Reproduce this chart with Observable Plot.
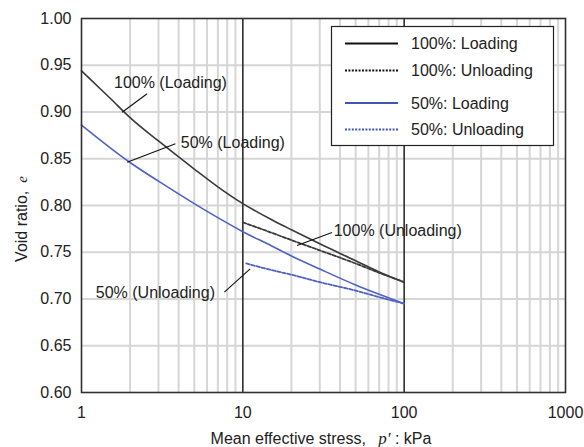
<!DOCTYPE html>
<html>
<head>
<meta charset="utf-8">
<script src="https://cdn.jsdelivr.net/npm/d3@7"></script>
<script src="https://cdn.jsdelivr.net/npm/@observablehq/plot@0.6"></script>
<style>
  html, body { margin: 0; padding: 0; background: #fff; }
  #chart { position: relative; width: 584px; height: 447px; }
</style>
</head>
<body>
<div id="chart"></div>
<script>
// ---- Data ----
const p100Load = [1, 1.5, 2, 3, 5, 7, 10, 15, 20, 30, 50, 70, 100];
const e100Load = [0.944, 0.915, 0.894, 0.869, 0.839, 0.820, 0.802, 0.785, 0.774, 0.759, 0.741, 0.729, 0.718];

const p50Load = [1, 1.5, 2, 3, 5, 7, 10, 15, 20, 30, 50, 70, 100];
const e50Load = [0.886, 0.862, 0.846, 0.826, 0.802, 0.787, 0.772, 0.757, 0.746, 0.732, 0.715, 0.705, 0.695];

const p100Unload = [10, 15, 20, 30, 50, 70, 100];
const e100Unload = [0.782, 0.771, 0.763, 0.752, 0.738, 0.728, 0.718];

const p50Unload = [10.5, 15, 20, 30, 50, 70, 100];
const e50Unload = [0.738, 0.731, 0.726, 0.718, 0.709, 0.702, 0.695];

const xTicks = [1, 10, 100, 1000];
const yTicks = [0.60, 0.65, 0.70, 0.75, 0.80, 0.85, 0.90, 0.95, 1.00];
const decades = [1, 10, 100];
const minorMult = [2, 3, 4, 5, 6, 7, 8, 9];
const majorX = [10, 100];

const seriesNames = ["100%: Loading", "100%: Unloading", "50%: Loading", "50%: Unloading"];

// annotation labels: text, text position (p, e), leader start (p, e), leader end on curve (p, e)
const annLabels = ["100% (Loading)", "50% (Loading)", "100% (Unloading)", "50% (Unloading)"];
const annTextP = [3.56, 8.67, 91.2, 2.87];
const annTextE = [0.9316, 0.8666, 0.7733, 0.7062];
const annFromP = [2.55, 3.82, 35.7, 7.68];
const annFromE = [0.9195, 0.866, 0.7711, 0.7073];
const annToP = [1.786, 1.92, 21.7, 11.1];
const annToE = [0.8998, 0.8463, 0.7572, 0.7323];

// ---- Build tables ----
const toRows = (ps, es) => ps.map((p, i) => ({p, e: es[i]}));
const d100L = toRows(p100Load, e100Load);
const d50L = toRows(p50Load, e50Load);
const d100U = toRows(p100Unload, e100Unload);
const d50U = toRows(p50Unload, e50Unload);
const minorX = decades.flatMap(d => minorMult.map(m => d * m));
const ann = annLabels.map((t, i) => ({
  t, tp: annTextP[i], te: annTextE[i],
  fp: annFromP[i], fe: annFromE[i], op: annToP[i], oe: annToE[i]
}));

const black = "#3a3a3a";
const blue = "#4f62c4";
const gridC = "#d6d6d6";
const textC = "#222";
const FONT = "'Liberation Sans', Arial, sans-serif";

const plot = Plot.plot({
  width: 584,
  height: 447,
  marginLeft: 81,
  marginRight: 19,
  marginTop: 18,
  marginBottom: 55,
  style: {fontFamily: FONT, fontSize: "16px", color: textC, background: "white", overflow: "visible"},
  x: {type: "log", domain: [1, 1000]},
  y: {domain: [0.6, 1.0]},
  marks: [
    Plot.ruleY(yTicks.slice(1, -1), {stroke: gridC, strokeWidth: 2}),
    Plot.ruleX(minorX, {stroke: gridC, strokeWidth: 2}),
    Plot.ruleX(majorX, {stroke: "#2f2f2f", strokeWidth: 1.6}),
    Plot.axisX({ticks: xTicks, tickFormat: d => String(d), tickSize: 0, tickPadding: 14, label: null, fontSize: 16}),
    Plot.axisY({ticks: yTicks, tickFormat: d => d.toFixed(2), tickSize: 0, tickPadding: 10, label: null, fontSize: 16}),
    Plot.line(d100L, {x: "p", y: "e", stroke: black, strokeWidth: 1.6, curve: "monotone-x"}),
    Plot.line(d50L, {x: "p", y: "e", stroke: blue, strokeWidth: 1.6, curve: "monotone-x"}),
    Plot.line(d100U, {x: "p", y: "e", stroke: black, strokeWidth: 1.8, strokeDasharray: "3.5,1.8", curve: "monotone-x"}),
    Plot.line(d50U, {x: "p", y: "e", stroke: blue, strokeWidth: 1.8, strokeDasharray: "3.5,1.8", curve: "monotone-x"}),
    Plot.link(ann, {x1: "fp", y1: "fe", x2: "op", y2: "oe", stroke: "#111", strokeWidth: 1.1}),
    Plot.text(ann, {x: "tp", y: "te", text: "t", fill: textC, fontSize: 16, className: "annot"}),
    Plot.frame({stroke: "#2f2f2f", strokeWidth: 1.6})
  ]
});

document.getElementById("chart").appendChild(plot);

const svg = d3.select(plot);

// white boxes behind annotation labels
svg.selectAll("g.annot text").each(function() {
  const bb = this.getBBox();
  d3.select(this.parentNode).insert("rect", () => this)
    .attr("x", bb.x - 3).attr("y", bb.y - 1)
    .attr("width", bb.width + 6).attr("height", bb.height + 2)
    .attr("fill", "white");
});

// axis titles
const xt = svg.append("text")
  .attr("x", 321).attr("y", 444)
  .attr("text-anchor", "middle")
  .attr("fill", textC)
  .style("font-family", FONT).style("font-size", "16px");
xt.append("tspan").text("Mean effective stress,\u2002 ");
xt.append("tspan").text("p'").style("font-family", "'Liberation Serif', 'DejaVu Serif', serif").style("font-style", "italic").style("font-size", "17px");
xt.append("tspan").text(" : kPa");

const yt = svg.append("text")
  .attr("transform", "translate(27,219) rotate(-90)")
  .attr("text-anchor", "middle")
  .attr("fill", textC)
  .style("font-family", FONT).style("font-size", "16px");
yt.append("tspan").text("Void ratio,\u2002");
yt.append("tspan").text("e").style("font-family", "'Liberation Serif', 'DejaVu Serif', serif").style("font-style", "italic").style("font-size", "15px");

// legend
const legDash = [null, "2,1.4", null, "2,1.4"];
const legY = [43.5, 70.5, 103, 129.5];
const lg = svg.append("g");
lg.append("rect").attr("x", 331.5).attr("y", 26.5).attr("width", 222).attr("height", 119)
  .attr("fill", "white").attr("stroke", "#222").attr("stroke-width", 1.2);
seriesNames.forEach((name, i) => {
  lg.append("line").attr("x1", 345).attr("x2", 398).attr("y1", legY[i]).attr("y2", legY[i])
    .attr("stroke", i < 2 ? "#111" : "#3f55b8").attr("stroke-width", legDash[i] ? 2 : 2.2)
    .attr("stroke-dasharray", legDash[i]);
  lg.append("text").attr("x", 411).attr("y", legY[i]).attr("dy", "0.35em")
    .attr("text-anchor", "start")
    .attr("fill", textC).style("font-family", FONT).style("font-size", "16px").text(name);
});
</script>
</body>
</html>
